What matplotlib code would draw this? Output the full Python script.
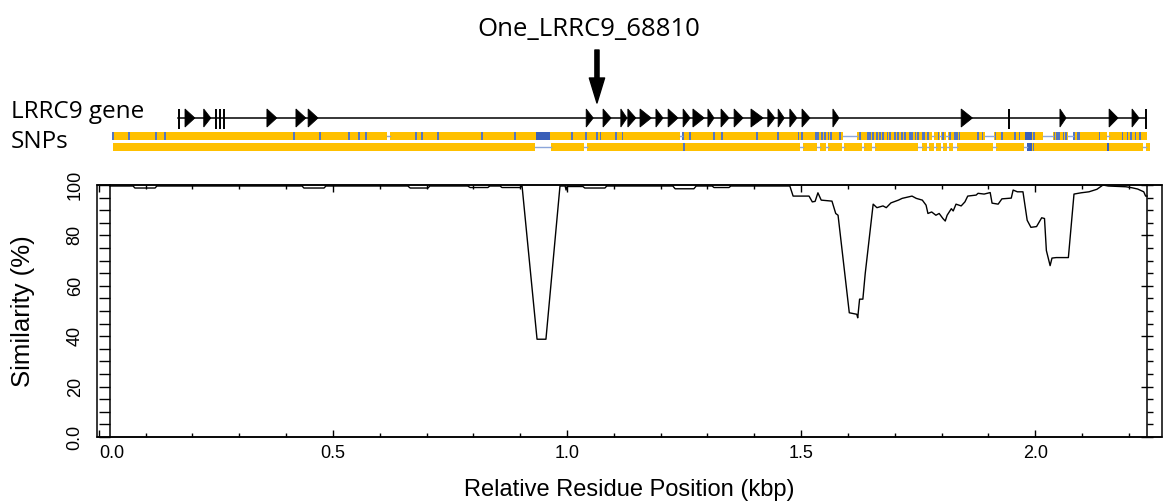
import matplotlib
matplotlib.use('Agg')
import matplotlib.pyplot as plt
from matplotlib.patches import Polygon, Rectangle
from matplotlib.ticker import MultipleLocator

plt.rcParams['font.family'] = ['Liberation Sans', 'DejaVu Sans']

# ---- data (positions in bp) ----
snp_name = "One_LRRC9_68810"
snp_pos = 1064

gene_start = 169
gene_end = 2237
# exon start / length, length 0 = thin bar
exon_start = [171, 184, 224, 250, 259, 267, 359, 421, 447,
              1041, 1077, 1115, 1130, 1156, 1190, 1216, 1248, 1269, 1301,
              1329, 1357, 1393, 1429, 1451, 1476, 1502, 1568,
              1842, 1944, 2053, 2158, 2207, 2237]
exon_len = [0, 21, 15, 0, 0, 0, 21, 21, 21,
            15, 17, 13, 17, 24, 15, 21, 15, 24, 13,
            17, 19, 26, 15, 13, 15, 17, 13,
            24, 0, 13, 19, 15, 0]

# SNP track, row 1
snp1_span = (30, 2239)
snp1_gaps = [(615, 622), (1241, 1246), (1590, 1620), (1780, 1784), (1797, 1799),
             (1810, 1814), (1893, 1912), (2017, 2038), (2071, 2081), (2154, 2158)]
snp1_blocks = [(934, 964), (1979, 1994)]
snp1_marks = [30, 64, 122, 141, 417, 472, 534, 556, 571, 677, 690, 724, 818, 889,
              1011, 1041, 1064, 1071, 1105, 1118, 1248, 1263, 1314, 1331, 1406,
              1451, 1494, 1502, 1532, 1536, 1545, 1551, 1558, 1564, 1583, 1626,
              1643, 1647, 1654, 1662, 1669, 1675, 1684, 1690, 1701, 1707, 1716,
              1722, 1733, 1737, 1744, 1750, 1759, 1763, 1771, 1793, 1803, 1818,
              1829, 1833, 1838, 1878, 1887, 1915, 1929, 1957, 1966, 1998, 2041,
              2047, 2051, 2060, 2066, 2083, 2090, 2094, 2137, 2186, 2197, 2205,
              2214, 2224]

# SNP track, row 2
snp2_span = (30, 2246)
snp2_gaps = [(932, 966), (1036, 1043), (1498, 1504), (1534, 1541), (1553, 1558),
             (1588, 1592), (1630, 1635), (1652, 1658), (1750, 1759), (1769, 1774),
             (1784, 1788), (1799, 1803), (1812, 1816), (1825, 1833), (1910, 1917),
             (1976, 1983), (2231, 2237)]
snp2_blocks = [(1983, 1994), (2154, 2158)]
snp2_marks = [1250, 1996]

# similarity curve
sim_pos = [24, 73, 77, 120, 124, 434, 438, 481, 485, 660, 665, 703, 707, 788,
           793, 831, 835, 857, 861, 900, 904, 936, 955, 985, 996, 998, 1000,
           1034, 1038, 1081, 1085, 1226, 1231, 1271, 1276, 1310, 1314, 1346,
           1350, 1476, 1483, 1517, 1524, 1530, 1536, 1543, 1566, 1574, 1579,
           1603, 1619, 1621, 1625, 1632, 1637, 1654, 1662, 1675, 1682, 1692,
           1708, 1716, 1737, 1746, 1759, 1767, 1771, 1779, 1788, 1795, 1803,
           1808, 1812, 1821, 1825, 1831, 1842, 1850, 1856, 1874, 1878, 1891,
           1904, 1908, 1921, 1929, 1949, 1953, 1962, 1974, 1983, 1991, 2003,
           2014, 2020, 2024, 2032, 2036, 2045, 2071, 2083, 2098, 2115, 2132,
           2145, 2156, 2194, 2207, 2219, 2232, 2236, 2239]
sim_val = [99.6, 99.6, 98.8, 98.8, 99.6, 99.6, 98.8, 98.8, 99.6, 99.6, 98.8,
           98.8, 99.6, 99.6, 99.0, 99.0, 99.6, 99.6, 99.0, 99.0, 99.6, 38.8,
           38.8, 99.6, 99.6, 98.0, 99.4, 99.4, 98.8, 98.8, 99.6, 99.6, 98.5,
           98.5, 99.6, 99.6, 99.0, 99.0, 99.6, 99.6, 95.6, 95.6, 93.3, 93.5,
           96.9, 94.0, 93.6, 88.7, 88.0, 49.3, 48.7, 47.3, 54.7, 54.7, 64.8,
           92.4, 91.0, 91.7, 91.0, 92.9, 94.0, 94.7, 95.6, 94.7, 94.0, 92.0,
           88.7, 89.3, 88.0, 88.7, 86.7, 85.7, 88.0, 90.6, 89.7, 92.4, 91.7,
           93.3, 95.6, 96.0, 96.7, 96.4, 97.0, 92.8, 92.4, 94.5, 94.8, 98.0,
           97.3, 97.3, 86.0, 83.2, 83.5, 87.0, 86.7, 74.0, 68.0, 71.0, 71.2,
           71.2, 96.4, 96.9, 97.3, 98.3, 100.0, 99.6, 99.3, 98.9, 98.4, 97.3,
           95.6, 95.6]

y_ticks = [0, 20, 40, 60, 80, 100]
y_tick_labels = ['0.0', '20', '40', '60', '80', '100']
x_ticks = [0.0, 0.5, 1.0, 1.5, 2.0]
x_tick_labels = ['0.0', '0.5', '1.0', '1.5', '2.0']

YELLOW = '#FFC000'
BLUE = '#3A5FB8'
MARK = '#5577C0'
GAPLINE = '#8CA6DA'
TOPFONT = ['Open Sans', 'DejaVu Sans']

W, H = 1172, 504
XLIM = (-0.004, 2.271)

fig = plt.figure(figsize=(W / 100, H / 100), dpi=100)

# ---- similarity plot ----
ax = fig.add_axes([97 / W, 1 - 437 / H, 1065 / W, 252 / H])
ax.plot([p / 1000 for p in sim_pos], sim_val, color='black', lw=1.0)
ax.set_xlim(*XLIM)
ax.set_ylim(0, 100)

for s in ax.spines.values():
    s.set_linewidth(1.1)
ax.spines['left'].set_position(('data', sim_pos[0] / 1000))
ax.spines['right'].set_visible(False)
ax.add_patch(Rectangle((0, 0), 1, 1, transform=ax.transAxes, fill=False,
                       lw=1.1, clip_on=False))

ax.set_xticks(x_ticks, x_tick_labels)
ax.xaxis.set_minor_locator(MultipleLocator(0.1))
ax.tick_params(axis='x', which='both', top=True, bottom=True, direction='in',
               labelsize=13, pad=6)
ax.tick_params(axis='x', which='major', length=5, width=1)
ax.tick_params(axis='x', which='minor', length=3, width=1)
ax.get_xticklabels()[0].set_ha('left')

ax.set_yticks(y_ticks, y_tick_labels)
ax.yaxis.set_minor_locator(MultipleLocator(5))
ax.tick_params(axis='y', which='both', left=True, right=False, direction='out',
               length=8, width=1, labelsize=13, labelrotation=90, pad=11)
for t in ax.get_yticklabels():
    t.set_va('center')

ax2 = ax.twinx()
ax2.set_ylim(0, 100)
for k in ['left', 'top', 'bottom']:
    ax2.spines[k].set_visible(False)
ax2.spines['right'].set_position(('data', sim_pos[-1] / 1000))
ax2.spines['right'].set_linewidth(1.1)
ax2.set_yticks(y_ticks)
ax2.yaxis.set_minor_locator(MultipleLocator(5))
ax2.tick_params(axis='y', which='both', right=True, labelright=False,
                direction='out', width=1)
ax2.tick_params(axis='y', which='major', direction='inout', length=8)
ax2.tick_params(axis='y', which='minor', length=4)

ax.set_xlabel('Relative Residue Position (kbp)', fontsize=17, labelpad=12)
ax.set_ylabel('Similarity (%)', fontsize=18.5)
ax.yaxis.set_label_coords(-0.058, 0.5)

# ---- gene + SNP tracks ----
at = fig.add_axes([97 / W, 1 - 165 / H, 1065 / W, 165 / H])
at.set_xlim(*XLIM)
at.set_ylim(165, 0)
at.axis('off')

at.plot([gene_start / 1000, gene_end / 1000], [118, 118], color='black', lw=1.1)
for s, l in zip(exon_start, exon_len):
    if l == 0:
        at.plot([s / 1000, s / 1000], [109, 129], color='black', lw=1.4,
                solid_capstyle='butt')
    else:
        at.add_patch(Polygon([(s / 1000, 109), (s / 1000, 127), ((s + l) / 1000, 118)],
                             closed=True, fc='black', ec='black', lw=0.6))


def draw_row(span, gaps, blocks, marks, y0, h):
    segs = []
    pos = span[0]
    for g0, g1 in gaps:
        segs.append((pos / 1000, (g0 - pos) / 1000))
        at.plot([g0 / 1000, g1 / 1000], [y0 + h / 2] * 2, color=GAPLINE, lw=1.0)
        pos = g1
    segs.append((pos / 1000, (span[1] - pos) / 1000))
    at.broken_barh(segs, (y0, h), facecolors=YELLOW)
    at.broken_barh([((m - 1.5) / 1000, 0.003) for m in marks], (y0, h), facecolors=MARK)
    at.broken_barh([(b0 / 1000, (b1 - b0) / 1000) for b0, b1 in blocks], (y0, h),
                   facecolors=BLUE)


draw_row(snp1_span, snp1_gaps, snp1_blocks, snp1_marks, 132, 7.5)
draw_row(snp2_span, snp2_gaps, snp2_blocks, snp2_marks, 143, 7.5)

at.annotate('', xy=(snp_pos / 1000, 103), xytext=(snp_pos / 1000, 50),
            arrowprops=dict(width=3, headwidth=11, headlength=18, color='black',
                            shrink=0))

fig.text(589 / W, 1 - 36 / H, snp_name, ha='center', va='baseline',
         fontsize=18.5, family=TOPFONT)
fig.text(11 / W, 1 - 118 / H, 'LRRC9 gene', ha='left', va='baseline',
         fontsize=17.5, family=TOPFONT)
fig.text(11 / W, 1 - 148 / H, 'SNPs', ha='left', va='baseline',
         fontsize=17.5, family=TOPFONT)

fig.savefig('out.png', dpi=100)
